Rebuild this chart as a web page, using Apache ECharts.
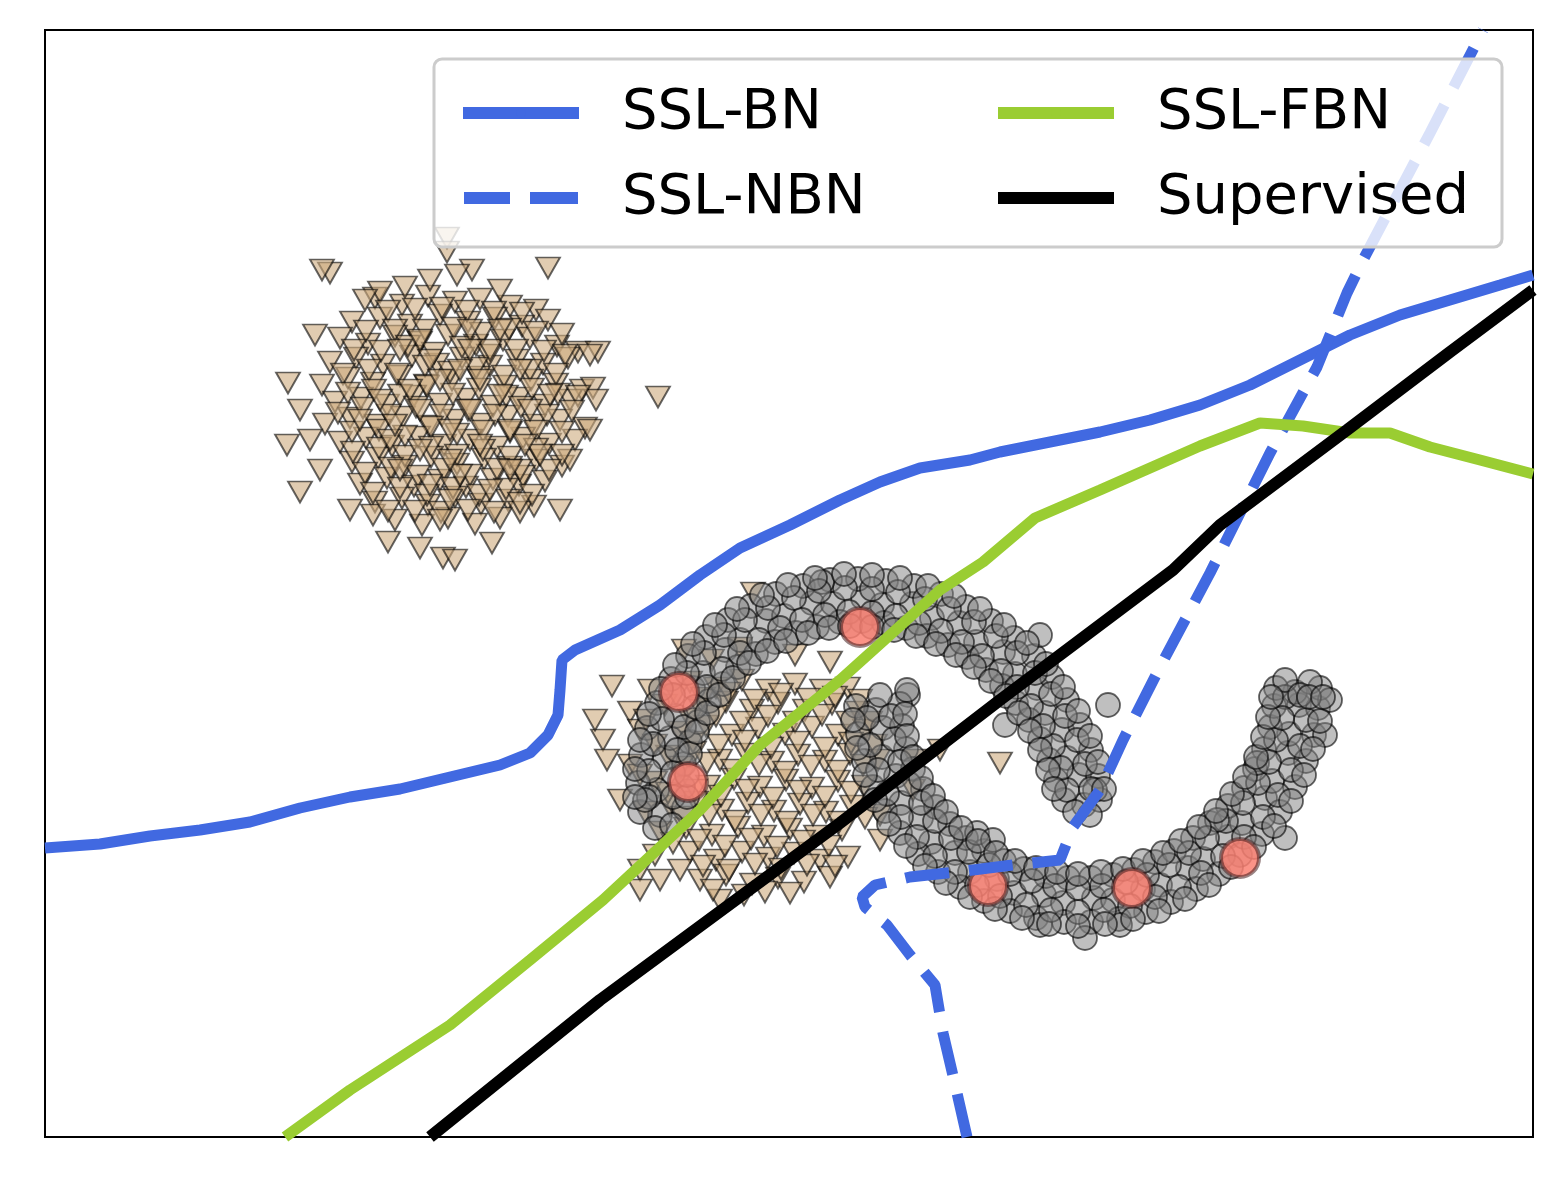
<!DOCTYPE html>
<html>
<head>
<meta charset="utf-8">
<script src="https://cdn.jsdelivr.net/npm/echarts@6/dist/echarts.min.js"></script>
<style>
  html, body { margin: 0; padding: 0; background: #fff; }
  #container { width: 1562px; height: 1183px; }
</style>
</head>
<body>
<div id="container"></div>
<script>

var seriesNames = ['SSL-BN', 'SSL-NBN', 'SSL-FBN', 'Supervised'];

var blobTopLeft = [
    [375,298],[402,305],[428,296],[455,302],[480,299],[510,306],[536,310],
    [352,322],[380,318],[410,325],[440,315],[468,322],[495,318],[522,326],[548,320],
    [340,338],[368,344],[395,336],[420,342],[448,335],[476,345],[503,340],[530,338],[557,346],[578,352],
    [330,362],[356,358],[383,365],[412,356],[437,364],[462,358],[490,366],[517,360],[543,364],[568,358],
    [322,385],[348,378],[373,383],[400,376],[426,385],[452,380],[478,377],[505,386],[531,380],[556,384],[582,390],
    [335,402],[361,398],[387,405],[414,396],[440,404],[466,399],[493,406],[519,398],[545,405],[570,400],
    [325,424],[350,418],[376,425],[403,417],[429,426],[455,420],[481,424],[508,416],[534,425],[560,420],[585,428],
    [340,442],[366,438],[392,446],[418,437],[444,445],[470,440],[497,447],[523,438],[549,444],[575,440],
    [352,462],[378,458],[405,466],[431,457],[457,464],[484,459],[510,467],[536,460],[562,466],
    [360,484],[387,478],[414,486],[440,480],[466,487],[493,479],[519,485],[545,481],
    [375,502],[402,498],[428,505],[455,497],[481,504],[508,500],[534,506],
    [395,520],[422,525],[448,518],[475,524],[500,518],
    [288,383],[287,445],[300,492],[330,273],[548,268],[658,397],[388,542],[443,558],[492,543],
    [447,238],[447,252],[472,270],[457,275],[322,270],[405,287],[380,292],[315,335],[300,410],
    [310,440],[598,352],[593,388],[590,430],[596,400],[570,460],[560,510],[350,510],[373,515],
    [420,548],[455,560],[520,512],[320,470],[365,300],[430,280],[500,290],[590,355],
    // second layer
    [388,311],[415,309],[442,308],[467,311],[494,312],[522,313],
    [366,331],[395,330],[425,330],[454,328],[482,333],[509,329],[536,332],[562,334],
    [354,350],[381,351],[408,346],[434,353],[462,347],[489,355],[516,350],[544,351],[565,355],
    [343,374],[369,370],[397,374],[425,366],[450,372],[476,368],[504,376],[530,370],[556,374],
    [348,393],[374,390],[400,395],[427,386],[453,394],[479,389],[506,396],[532,389],[558,394],[578,396],
    [338,413],[363,408],[389,415],[416,407],[442,415],[468,410],[495,415],[521,407],[547,415],[572,411],
    [352,432],[379,430],[405,436],[431,427],[457,434],[483,431],[510,432],[536,431],[562,432],
    [353,452],[379,448],[405,456],[431,447],[457,455],[483,450],[510,457],[536,449],[562,455],
    [365,473],[391,468],[418,476],[444,469],[470,475],[497,469],[523,476],[549,470],
    [373,493],[400,488],[427,495],[453,488],[479,495],[506,489],[532,495],
    [388,511],[415,511],[441,512],[468,510],[494,512],[520,503],
    // core
    [400,350],[430,360],[460,370],[490,350],[520,370],[380,400],[410,390],[440,380],[470,410],
    [500,395],[530,410],[390,440],[420,450],[450,430],[480,445],[510,430],[540,455],[400,470],
    [430,485],[460,475],[490,490],[520,470],[450,500],[420,340],[470,330],[500,330],[360,420],
    [550,395],[420,410],[450,460],[480,380],[510,470],[440,520],[470,350],[395,425],[525,445]
];

var blobCenter = [
    [684,650],[712,660],[740,648],[795,655],[830,662],
    [612,686],[650,690],[690,682],[716,688],[742,680],[768,690],[795,684],[822,690],[848,688],
    [630,712],[665,705],[700,708],[726,702],[752,710],[778,703],[805,710],[832,704],[858,712],
    [603,740],[640,730],[680,732],[706,726],[732,735],[758,728],[785,734],[812,727],[838,735],[865,730],
    [607,760],[630,765],[668,756],[694,752],[720,760],[746,754],[772,762],[798,755],[825,761],[850,754],[878,760],[915,760],
    [620,800],[655,782],[682,778],[708,786],[734,779],[760,787],[786,780],[812,788],[838,781],[864,786],
    [645,812],[670,806],[696,802],[722,810],[748,803],[774,811],[800,804],[826,812],[852,806],[880,815],
    [660,832],[686,828],[712,835],[738,827],[764,836],[790,829],[816,836],[842,830],
    [640,870],[655,855],[690,852],[716,860],[742,852],[768,858],[794,853],[820,860],[848,857],[880,840],
    [700,880],[726,875],[752,884],[778,878],[804,882],[830,877],
    [744,895],[790,893],[720,900],[640,890],[660,880],[1000,763],[940,750],[913,790],[595,720],[753,593],
    // second layer
    [676,695],[703,698],[729,693],[755,700],[781,694],[808,699],[835,697],[860,700],
    [646,720],[690,719],[716,716],[742,722],[768,716],[795,722],[822,715],[848,722],[870,722],
    [655,745],[693,742],[719,745],[745,741],[771,748],[798,742],[825,748],[851,743],[875,745],
    [640,775],[681,767],[707,763],[733,770],[759,765],[785,772],[811,766],[838,771],[863,765],
    [668,793],[695,790],[721,796],[747,790],[773,798],[799,791],[825,797],[851,792],
    [683,817],[709,815],[735,821],[761,815],[787,822],[813,815],[839,822],[865,818],
    [673,843],[699,840],[725,846],[751,839],[777,847],[803,841],[829,846],
    [703,866],[729,870],[755,864],[781,869],[807,865],[835,866],
    [713,890],[765,892],[680,870]
];

var moonUpper = [
    [660,815],[640,812],[684,808],[657,790],[638,783],[683,787],[665,758],[641,755],[684,764],
    [670,738],[647,728],[690,742],[676,716],[657,703],[698,722],[693,688],[671,679],[709,701],
    [703,673],[688,656],[723,684],[725,650],[706,637],[738,667],[740,640],[728,620],[756,654],
    [766,621],[751,606],[775,642],[784,616],[776,594],[796,633],[812,603],[803,586],[817,627],
    [833,604],[830,580],[840,622],[863,598],[858,579],[862,621],[882,605],[886,581],[884,623],
    [912,604],[914,586],[906,628],[932,618],[941,594],[927,636],[959,623],[966,607],[948,645],
    [976,642],[991,621],[967,657],[1003,652],[1014,638],[986,670],[1015,674],[1034,656],[1002,686],
    [1037,688],[1052,677],[1016,703],[1045,713],[1067,700],[1029,720],[1062,730],[1080,725],[1040,739],
    [1067,758],[1091,750],[1049,760],[1079,775],[1098,776],[1056,780],[1084,805],[1100,800],[1064,800],
    [649,797],[673,773],[653,744],[684,727],[673,695],[707,687],[704,653],[740,653],[745,620],
    [780,628],[794,598],[825,615],[845,588],[872,613],[898,592],[919,623],[949,609],[962,642],
    [996,636],[1001,671],[1035,673],[1031,706],[1065,716],[1053,746],[1085,764],[1067,790],
    [1090,815],[1075,812],[1095,790],[655,828],[672,825],[645,800],
    [1005,725],[908,695],[1108,705],[822,582],[1040,635],
    // second layer
    [673,797],[635,797],[687,797],[649,771],[635,769],[687,775],[677,750],[640,740],[690,754],
    [662,719],[649,714],[697,732],[695,707],[661,689],[707,713],[687,673],[675,665],[719,695],
    [722,669],[693,644],[733,678],[724,635],[715,625],[749,663],[759,640],[737,609],[767,651],
    [768,608],[762,595],[786,641],[802,620],[788,585],[808,633],[819,591],[815,578],[829,628],
    [849,612],[844,574],[850,626],[872,589],[872,575],[872,627],[896,616],[900,578],[894,630],
    [925,599],[928,586],[916,636],[941,631],[954,596],[936,644],[974,622],[980,609],[956,655],
    [982,656],[1004,625],[974,667],[1017,653],[1027,643],[991,681],[1017,687],[1046,664],[1006,696],
    [1051,694],[1063,687],[1019,713],[1043,726],[1078,711],[1030,731],[1077,740],[1090,736],[1040,750],
    [1061,768],[1098,762],[1048,770],[1091,789],[1104,789],[1054,789]
];

var moonLower = [
    [876,710],[856,706],[900,704],[883,728],[858,734],[902,726],[882,757],[864,761],[906,749],
    [896,776],[873,787],[913,769],[901,803],[885,811],[923,789],[921,818],[900,833],[936,807],
    [931,842],[918,854],[950,824],[955,853],[938,872],[966,838],[970,872],[960,887],[984,851],
    [997,879],[984,901],[1004,861],[1014,893],[1010,911],[1024,869],[1044,895],[1036,918],[1046,876],
    [1063,903],[1064,922],[1068,878],[1094,898],[1091,922],[1091,878],[1113,900],[1119,919],[1113,875],
    [1143,889],[1146,912],[1134,870],[1160,885],[1171,902],[1155,862],[1188,868],[1196,889],[1174,851],
    [1203,859],[1219,874],[1193,838],[1228,837],[1240,855],[1210,823],[1242,823],[1262,834],[1228,806],
    [1265,798],[1280,812],[1244,788],[1272,781],[1295,787],[1255,769],[1288,753],[1306,761],[1264,749],
    [1289,734],[1314,735],[1270,727],[1299,705],[1318,708],[1274,706],[1295,692],[1320,688],[1276,688],
    [867,718],[894,739],[878,770],[909,784],[901,817],[935,821],[935,856],[969,852],[977,885],
    [1010,874],[1026,905],[1055,886],[1078,912],[1102,886],[1130,906],[1147,875],[1179,887],[1189,853],
    [1223,856],[1226,821],[1263,817],[1258,783],[1291,770],[1276,740],[1306,720],[1285,697],
    [1285,680],[1310,682],[1330,700],[1325,735],[1300,695],[880,695],[907,690],
    [1217,820],[1257,763],[977,833],[993,840],[1285,838],[1085,938],[1120,925],[1040,925],
    // second layer
    [891,716],[853,720],[905,714],[870,745],[857,748],[907,736],[900,762],[865,775],[913,757],
    [887,794],[875,800],[921,778],[921,803],[889,824],[933,796],[917,837],[906,846],[946,812],
    [951,838],[925,866],[961,828],[955,872],[946,883],[978,841],[989,865],[970,897],[996,853],
    [1000,896],[995,909],[1015,861],[1032,881],[1022,918],[1036,868],[1051,910],[1049,924],[1057,872],
    [1078,888],[1078,926],[1078,874],[1104,910],[1105,924],[1101,872],[1126,882],[1133,919],[1123,869],
    [1155,897],[1159,911],[1143,861],[1169,865],[1185,899],[1163,853],[1201,873],[1209,885],[1181,841],
    [1207,838],[1231,867],[1199,827],[1244,837],[1254,847],[1216,811],[1243,803],[1274,826],[1232,794],
    [1278,795],[1291,801],[1245,777],[1269,762],[1304,775],[1256,757],[1300,746],[1313,749],[1263,737],
    [1282,718],[1320,721],[1268,717],[1309,697],[1323,697],[1271,697]
];

var labeled = [[860,627],[679,692],[688,782],[988,886],[1132,888],[1240,858]];

var lineBN = [
    [45,848],[100,844],[150,836],[200,830],[250,822],[300,808],[350,797],[400,789],
    [450,777],[500,765],[530,753],[548,735],[558,715],[560,690],[562,660],[575,650],
    [620,630],[660,605],[700,575],[740,548],[790,525],[840,500],[880,482],[920,468],
    [970,460],[1000,452],[1050,442],[1100,432],[1150,420],[1200,405],[1250,385],
    [1300,360],[1350,335],[1400,315],[1450,300],[1500,285],[1533,275]
];

var lineNBN = [
    [967,1137],[957,1093],[943,1033],[935,985],[910,955],[887,925],[865,907],[862,897],
    [875,885],[910,877],[957,872],[1013,865],[1060,860],[1073,827],[1100,790],[1123,740],
    [1160,667],[1210,573],[1270,453],[1317,367],[1347,293],[1363,260],[1430,133],[1483,30]
];

var lineFBN = [
    [285,1137],[350,1090],[450,1025],[530,960],[603,900],[700,810],[760,745],[840,680],
    [940,590],[983,562],[1035,518],[1100,490],[1150,468],[1200,446],[1260,423],[1303,426],
    [1350,433],[1390,433],[1430,447],[1480,460],[1533,474]
];

var lineSup = [
    [430,1137],[600,1000],[840,823],[1000,700],[1173,570],[1220,525],[1347,430],
    [1450,352],[1533,290]
];

var chart = echarts.init(document.getElementById('container'));

function lineSeries(name, data, color, width, type) {
    return {
        name: name,
        type: 'line',
        data: data,
        symbol: 'none',
        z: 5,
        lineStyle: { color: color, width: width, type: type },
        itemStyle: { color: color }
    };
}

var legendText = { fontFamily: 'DejaVu Sans', fontSize: 56, color: '#000', lineHeight: 60, padding: [0, 0, 0, 38] };

var option = {
    animation: false,
    backgroundColor: '#fff',
    grid: {
        left: 45, top: 30, width: 1488, height: 1107,
        show: true, borderColor: '#000', borderWidth: 2, backgroundColor: 'transparent'
    },
    xAxis: {
        type: 'value', min: 45, max: 1533,
        axisLine: { show: false }, axisTick: { show: false },
        axisLabel: { show: false }, splitLine: { show: false }
    },
    yAxis: {
        type: 'value', min: 30, max: 1137, inverse: true,
        axisLine: { show: false }, axisTick: { show: false },
        axisLabel: { show: false }, splitLine: { show: false }
    },
    graphic: [{
        type: 'rect',
        z: 50,
        shape: { x: 434, y: 59, width: 1068, height: 188, r: 8 },
        style: { fill: 'rgba(255,255,255,0.8)', stroke: '#cccccc', lineWidth: 3 }
    }],
    legend: [{
        data: [
            'SSL-BN',
            { name: 'SSL-NBN', icon: 'path://M0,0H46V12H0ZM66,0H114V12H66Z' }
        ],
        orient: 'vertical',
        left: 452, top: 78, z: 60,
        itemWidth: 116, itemHeight: 12, itemGap: 25,
        lineStyle: { width: 12 },
        textStyle: legendText
    }, {
        data: ['SSL-FBN', 'Supervised'],
        orient: 'vertical',
        left: 987, top: 78, z: 60,
        itemWidth: 116, itemHeight: 12, itemGap: 25,
        lineStyle: { width: 12 },
        textStyle: legendText
    }],
    series: [
        {
            type: 'scatter', data: blobTopLeft, symbol: 'triangle', symbolRotate: 180,
            symbolSize: [24, 21], z: 2, silent: true,
            itemStyle: { color: 'rgba(205,170,125,0.6)', borderColor: 'rgba(0,0,0,0.6)', borderWidth: 1.8, opacity: 1 }
        },
        {
            type: 'scatter', data: blobCenter, symbol: 'triangle', symbolRotate: 180,
            symbolSize: [24, 21], z: 2, silent: true,
            itemStyle: { color: 'rgba(205,170,125,0.6)', borderColor: 'rgba(0,0,0,0.6)', borderWidth: 1.8, opacity: 1 }
        },
        {
            type: 'scatter', data: moonUpper.concat(moonLower), symbol: 'circle',
            symbolSize: 24, z: 3, silent: true,
            itemStyle: { color: 'rgba(128,128,128,0.5)', borderColor: 'rgba(0,0,0,0.6)', borderWidth: 1.8, opacity: 1 }
        },
        {
            type: 'scatter', data: labeled, symbol: 'circle',
            symbolSize: 38, z: 4, silent: true,
            itemStyle: { color: 'rgba(250,128,114,0.85)', borderColor: 'rgba(70,30,30,0.55)', borderWidth: 4, opacity: 1 }
        },
        lineSeries('SSL-BN', lineBN, '#4169E1', 11, 'solid'),
        lineSeries('SSL-NBN', lineNBN, '#4169E1', 11, [44, 20]),
        lineSeries('SSL-FBN', lineFBN, '#9ACD32', 11, 'solid'),
        lineSeries('Supervised', lineSup, '#000000', 12, 'solid')
    ]
};

chart.setOption(option);
</script>
</body>
</html>
